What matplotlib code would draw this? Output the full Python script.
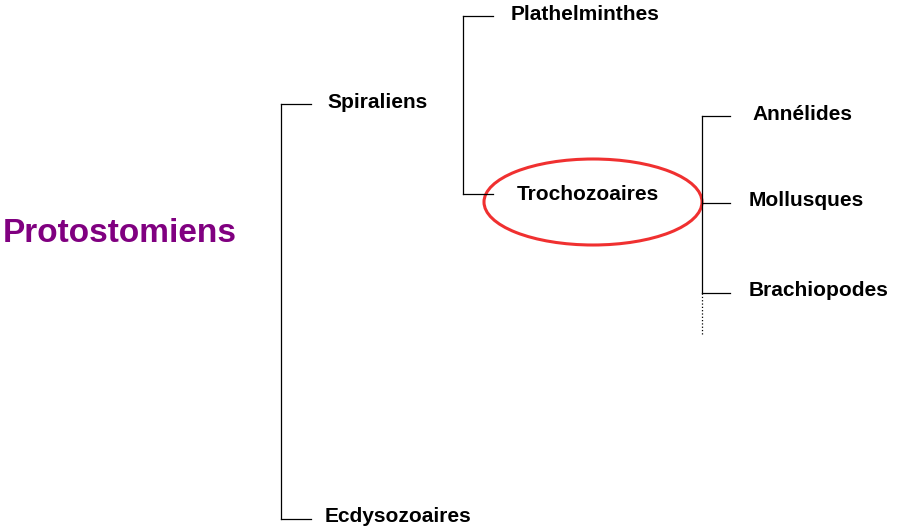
import matplotlib
matplotlib.use('Agg')
import matplotlib.pyplot as plt
from matplotlib.patches import Ellipse

plt.rcParams['font.family'] = ['Liberation Sans', 'DejaVu Sans']

# tree labels and their positions (pixel space)
labels = ["Spiraliens", "Ecdysozoaires", "Plathelminthes", "Trochozoaires",
          "Annélides", "Mollusques", "Brachiopodes"]
label_x = [327, 325, 511, 517, 752, 749, 749]
label_y = [102, 516, 15, 194, 115, 200, 290]

# brackets: (x, y_top, y_bottom, tick length, tick ys)
brackets = [
    (281, 104, 519, 30, [104, 519]),
    (463, 16, 194, 30, [16, 194]),
    (702, 116, 293, 28, [116, 203, 293]),
]

fig = plt.figure(figsize=(9.11, 5.32), dpi=100)
ax = fig.add_axes([0, 0, 1, 1])
ax.set_xlim(0, 911)
ax.set_ylim(532, 0)
ax.axis('off')

for x, y0, y1, L, ticks in brackets:
    ax.plot([x, x], [y0, y1], color='black', lw=0.9)
    for ty in ticks:
        ax.plot([x, x + L], [ty, ty], color='black', lw=0.9)
# dotted continuation of last bracket
ax.plot([702, 702], [293, 335], color='black', lw=0.9, linestyle=':')

for t, x, y in zip(labels, label_x, label_y):
    ax.text(x, y, t, fontsize=15, fontweight='bold', ha='left', va='center')

ax.text(3, 234, "Protostomiens", fontsize=24, fontweight='bold',
        color='#800080', ha='left', va='center')

ax.add_patch(Ellipse((593, 202), 218, 86, fill=False, edgecolor='#f03030', lw=2.2))

fig.savefig("out.png", dpi=100)
